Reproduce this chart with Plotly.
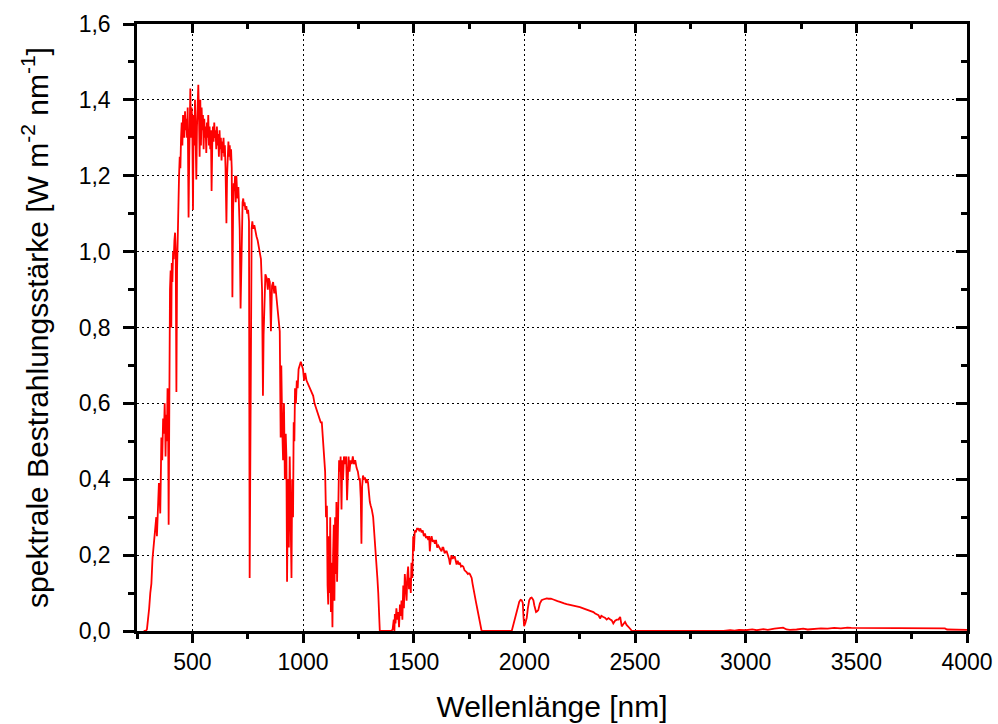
import plotly.graph_objects as go

# Wavelength [nm] and spectral irradiance [W m^-2 nm^-1]
wavelength_uv_vis = [280, 290, 295, 300, 305, 310, 315, 320, 325, 330, 335, 337, 340, 345, 349, 353, 355, 358, 360, 362,
                     364, 368, 372, 375, 377, 379, 382, 385, 388, 390, 393, 395, 397, 399, 402, 404, 405, 407, 410, 413,
                     416, 419, 422, 425, 428, 431, 434, 437, 440, 443, 446, 449, 452, 455, 458, 461, 464, 467, 470, 473,
                     476, 479, 483, 486, 489, 491, 494, 497, 500, 503, 506, 509, 512, 515, 518, 521, 524, 527, 530, 533,
                     536, 539, 542, 545, 548, 551, 554, 557, 560, 563, 566, 569, 572, 575, 578, 581, 584, 587, 590, 593,
                     596, 599, 602, 605, 608, 611, 614, 617, 620, 623, 626, 629, 632, 635, 638, 641, 644, 647, 650, 654,
                     657, 660, 663, 666, 669, 672, 675, 678, 681, 684, 687, 690, 693, 696, 699, 702, 705, 708, 711, 714,
                     718, 721, 724, 727, 730, 733, 736, 740, 744, 748, 752, 756, 759, 762, 765, 768, 771, 775, 780, 785,
                     790, 795, 800, 805, 810, 815, 819, 822, 826, 830, 836, 841, 845, 850, 855, 860, 865, 870, 875, 880,
                     885, 890, 895, 899, 902, 906, 910, 914, 918, 922, 925, 928, 932, 936, 940, 944, 948, 951, 955, 958,
                     961, 964, 968, 972, 976, 980, 985, 990, 995]
irradiance_uv_vis = [0.0, 0.0, 0.005, 0.03, 0.06, 0.10, 0.125, 0.19, 0.22, 0.26, 0.27, 0.30, 0.25, 0.33, 0.39, 0.34, 0.31, 0.42, 0.51, 0.47,
                     0.45, 0.56, 0.52, 0.60, 0.55, 0.46, 0.57, 0.50, 0.64, 0.62, 0.28, 0.55, 0.67, 0.90, 0.95, 0.85, 0.80, 0.97, 0.92, 1.00,
                     0.98, 1.03, 1.05, 1.00, 0.63, 0.95, 1.08, 1.15, 1.20, 1.25, 1.22, 1.30, 1.34, 1.28, 1.36, 1.33, 1.30, 1.37, 1.32, 1.35,
                     1.30, 1.38, 1.09, 1.25, 1.35, 1.43, 1.30, 1.38, 1.32, 1.11, 1.36, 1.28, 1.40, 1.30, 1.19, 1.33, 1.38, 1.44, 1.36, 1.25,
                     1.40, 1.28, 1.38, 1.32, 1.36, 1.27, 1.35, 1.30, 1.33, 1.26, 1.34, 1.30, 1.36, 1.28, 1.33, 1.27, 1.32, 1.16, 1.28, 1.33,
                     1.29, 1.34, 1.30, 1.32, 1.27, 1.33, 1.28, 1.31, 1.25, 1.32, 1.27, 1.30, 1.24, 1.29, 1.26, 1.30, 1.25, 1.28, 1.22, 1.075,
                     1.20, 1.27, 1.29, 1.25, 1.28, 1.24, 1.27, 1.22, 0.88, 1.10, 1.18, 1.16, 1.20, 1.13, 1.20, 1.16, 1.14, 1.17, 1.12, 1.06,
                     0.85, 1.00, 1.10, 1.13, 1.14, 1.12, 1.13, 1.11, 1.12, 1.10, 1.11, 1.08, 0.14, 0.60, 0.95, 1.06, 1.08, 1.06, 1.07, 1.05,
                     1.04, 1.03, 1.01, 1.00, 0.98, 0.90, 0.62, 0.78, 0.88, 0.94, 0.93, 0.90, 0.93, 0.92, 0.79, 0.91, 0.92, 0.89, 0.91, 0.88,
                     0.86, 0.82, 0.79, 0.51, 0.70, 0.54, 0.45, 0.60, 0.40, 0.52, 0.46, 0.13, 0.40, 0.22, 0.46, 0.30, 0.14, 0.40, 0.30, 0.55,
                     0.50, 0.64, 0.60, 0.66, 0.64, 0.69, 0.70, 0.71, 0.70]

wavelength_nir = [1000, 1005, 1010, 1016, 1023, 1030, 1038, 1046, 1052, 1058, 1064, 1068, 1074, 1080, 1085, 1090, 1095, 1100, 1104, 1108,
                  1111, 1114, 1117, 1120, 1123, 1126, 1129, 1133, 1136, 1139, 1142, 1145, 1148, 1151, 1154, 1157, 1160, 1163, 1167, 1170,
                  1174, 1177, 1181, 1185, 1190, 1195, 1199, 1202, 1206, 1210, 1215, 1220, 1225, 1230, 1236, 1242, 1248, 1253, 1257, 1261,
                  1264, 1267, 1271, 1276, 1280, 1285, 1290, 1294, 1298, 1302, 1306, 1311, 1317, 1321, 1325, 1329, 1332, 1336, 1340, 1344,
                  1347, 1400, 1405, 1410, 1413, 1415, 1418, 1422, 1426, 1430, 1434, 1438, 1442, 1445, 1449, 1453, 1456, 1460, 1464, 1468,
                  1471, 1475, 1479, 1483, 1487, 1490, 1494, 1498, 1501, 1505, 1510, 1515, 1520, 1525, 1530, 1536, 1541, 1546, 1551, 1556,
                  1561, 1566, 1570, 1573, 1577, 1581, 1586, 1591, 1596, 1601, 1606, 1611, 1616, 1621, 1626, 1630, 1634, 1640, 1645, 1649,
                  1655, 1660, 1664, 1668, 1671, 1676, 1681, 1686, 1690, 1694, 1699, 1704, 1709, 1714, 1719, 1724, 1730, 1735, 1739, 1745,
                  1750, 1754, 1758, 1762, 1766, 1770, 1774, 1777, 1782, 1787, 1792, 1797, 1802, 1807]
irradiance_nir = [0.69, 0.66, 0.68, 0.66, 0.65, 0.64, 0.63, 0.62, 0.60, 0.59, 0.58, 0.575, 0.565, 0.55, 0.55, 0.50, 0.48, 0.42, 0.30, 0.33,
                  0.12, 0.07, 0.25, 0.10, 0.30, 0.05, 0.18, 0.01, 0.20, 0.28, 0.08, 0.30, 0.15, 0.34, 0.13, 0.30, 0.40, 0.45, 0.42, 0.46,
                  0.32, 0.45, 0.40, 0.46, 0.44, 0.46, 0.345, 0.44, 0.46, 0.42, 0.45, 0.44, 0.46, 0.44, 0.45, 0.43, 0.42, 0.40, 0.40, 0.35,
                  0.23, 0.38, 0.41, 0.40, 0.405, 0.39, 0.40, 0.39, 0.36, 0.34, 0.33, 0.32, 0.30, 0.27, 0.22, 0.20, 0.17, 0.14, 0.10, 0.06,
                  0.0, 0.0, 0.005, 0.03, 0.0, 0.045, 0.02, 0.06, 0.03, 0.05, 0.01, 0.07, 0.04, 0.08, 0.03, 0.12, 0.06, 0.15, 0.10, 0.08,
                  0.14, 0.17, 0.11, 0.14, 0.10, 0.18, 0.14, 0.25, 0.21, 0.265, 0.26, 0.27, 0.27, 0.265, 0.27, 0.26, 0.265, 0.25, 0.257, 0.245,
                  0.25, 0.24, 0.25, 0.21, 0.24, 0.25, 0.235, 0.24, 0.23, 0.24, 0.22, 0.225, 0.22, 0.215, 0.21, 0.22, 0.22, 0.205, 0.21, 0.21,
                  0.20, 0.19, 0.175, 0.20, 0.20, 0.19, 0.195, 0.195, 0.185, 0.175, 0.185, 0.175, 0.18, 0.17, 0.172, 0.17, 0.16, 0.158, 0.155, 0.15,
                  0.152, 0.15, 0.145, 0.14, 0.125, 0.11, 0.10, 0.09, 0.075, 0.06, 0.046, 0.03, 0.012, 0.0]

wavelength_ir = [1943, 1950, 1958, 1966, 1972, 1977, 1983, 1988, 1993, 1996, 1999, 2004, 2011, 2016, 2022, 2028, 2033, 2037, 2041, 2045,
                 2049, 2053, 2058, 2063, 2070, 2078, 2085, 2093, 2101, 2110, 2120, 2131, 2140, 2150, 2161, 2170, 2180, 2191, 2200, 2210,
                 2221, 2230, 2240, 2251, 2260, 2270, 2282, 2290, 2300, 2312, 2320, 2328, 2335, 2342, 2348, 2357, 2364, 2372, 2380, 2387,
                 2395, 2402, 2410, 2418, 2425, 2433, 2437, 2440, 2447, 2455, 2462, 2470, 2478, 2486, 2900, 2930, 2950, 2970, 3000, 3030,
                 3050, 3080, 3100, 3130, 3150, 3169, 3185, 3200, 3230, 3260, 3280, 3310, 3340, 3370, 3400, 3430, 3460, 3477, 3500, 3600,
                 3700, 3750, 3780, 3800, 3850, 3900, 3910, 4000]
irradiance_ir = [0.0, 0.015, 0.03, 0.045, 0.065, 0.077, 0.082, 0.081, 0.074, 0.04, 0.013, 0.02, 0.035, 0.06, 0.081, 0.087, 0.088, 0.085, 0.081, 0.068,
                 0.055, 0.05, 0.052, 0.055, 0.072, 0.081, 0.083, 0.085, 0.086, 0.085, 0.085, 0.083, 0.082, 0.079, 0.077, 0.076, 0.073, 0.071, 0.07, 0.068,
                 0.066, 0.065, 0.064, 0.063, 0.061, 0.059, 0.056, 0.055, 0.052, 0.05, 0.046, 0.044, 0.042, 0.033, 0.040, 0.037, 0.035, 0.03, 0.034, 0.031,
                 0.028, 0.02, 0.027, 0.03, 0.03, 0.037, 0.02, 0.012, 0.018, 0.024, 0.016, 0.012, 0.006, 0.0, 0.0, 0.002, 0.001, 0.003, 0.002, 0.004,
                 0.002, 0.005, 0.003, 0.006, 0.008, 0.009, 0.004, 0.003, 0.004, 0.006, 0.004, 0.006, 0.007, 0.006, 0.008, 0.007, 0.009, 0.008, 0.008, 0.008,
                 0.008, 0.007, 0.006, 0.007, 0.007, 0.007, 0.004, 0.003]

wavelength = wavelength_uv_vis + wavelength_nir + wavelength_ir
irradiance = irradiance_uv_vis + irradiance_nir + irradiance_ir

x_range = [250, 4000]
y_range = [0, 1.6]
x_title = "Wellenlänge [nm]"
y_title = "spektrale Bestrahlungsstärke [W m<sup>-2</sup> nm<sup>-1</sup>]"

FONT = "Liberation Sans, Arial, sans-serif"

fig = go.Figure()
fig.add_trace(go.Scatter(x=wavelength, y=irradiance, mode="lines",
                         line=dict(color="#ff0000", width=1.8), showlegend=False,
                         hoverinfo="x+y"))
# helper trace so the mirrored (top/right) axes with inward ticks are drawn
fig.add_trace(go.Scatter(x=wavelength[:1], y=irradiance[:1], mode="lines", xaxis="x2", yaxis="y2",
                         line=dict(color="rgba(0,0,0,0)", width=0), showlegend=False, hoverinfo="skip"))

common_line = dict(showline=True, linecolor="black", linewidth=2.5, mirror=True, automargin=False)

fig.update_layout(
    width=998, height=724,
    paper_bgcolor="white", plot_bgcolor="white",
    margin=dict(l=137, r=31, t=24, b=93),
    separators=",.",
    font=dict(family=FONT, color="black", size=20),
    xaxis=dict(range=x_range, tickmode="linear", tick0=500, dtick=500,
               ticks="outside", ticklen=9, tickwidth=2.5, tickcolor="black",
               minor=dict(ticks="outside", ticklen=5, tickwidth=2.5, tickcolor="black", dtick=250, tick0=250, showgrid=False),
               showgrid=True, gridcolor="black", gridwidth=1.2, griddash="2px,3px",
               zeroline=False, tickfont=dict(size=23, family=FONT),
               title=dict(text=x_title, font=dict(size=30, family=FONT), standoff=22),
               **common_line),
    yaxis=dict(range=y_range, tickmode="linear", tick0=0, dtick=0.2, tickformat=".1f",
               ticks="outside", ticklen=11, tickwidth=2.5, tickcolor="black", ticklabelstandoff=8,
               minor=dict(ticks="outside", ticklen=6, tickwidth=2.5, tickcolor="black", dtick=0.1, showgrid=False),
               showgrid=True, gridcolor="black", gridwidth=1.2, griddash="2px,3px",
               zeroline=False, tickfont=dict(size=23, family=FONT),
               title=dict(text=y_title, font=dict(size=30, family=FONT), standoff=22),
               **common_line),
    xaxis2=dict(range=x_range, overlaying="x", side="top", anchor="y", automargin=False,
                tickmode="linear", tick0=500, dtick=500, showticklabels=False,
                ticks="inside", ticklen=9, tickwidth=2.5, tickcolor="black",
                minor=dict(ticks="inside", ticklen=5, tickwidth=2.5, tickcolor="black", dtick=250, tick0=250, showgrid=False),
                showgrid=False, zeroline=False, showline=False),
    yaxis2=dict(range=y_range, overlaying="y", side="right", anchor="x", automargin=False,
                tickmode="linear", tick0=0, dtick=0.2, showticklabels=False,
                ticks="inside", ticklen=11, tickwidth=2.5, tickcolor="black",
                minor=dict(ticks="inside", ticklen=6, tickwidth=2.5, tickcolor="black", dtick=0.1, showgrid=False),
                showgrid=False, zeroline=False, showline=False),
)

fig.write_html("out.html", config={"displayModeBar": False},
               post_script="document.body.style.margin='0';document.body.style.overflow='hidden';")
